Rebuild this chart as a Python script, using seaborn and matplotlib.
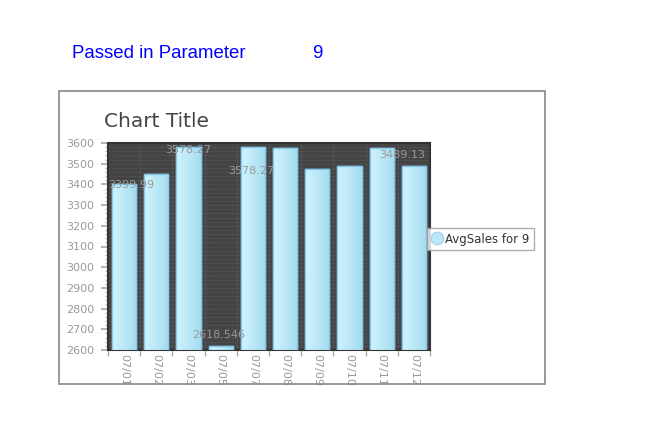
import matplotlib
matplotlib.use("Agg")
import matplotlib.pyplot as plt
import seaborn as sns
import numpy as np
import pandas as pd
from matplotlib.patches import Rectangle
from matplotlib.colors import LinearSegmentedColormap
from matplotlib.ticker import MultipleLocator

categories = ["07/01", "07/02", "07/03", "07/05", "07/07", "07/08", "07/09", "07/10", "07/11", "07/12"]
avg_sales = [3399.99, 3451.0, 3578.27, 2618.546, 3578.27, 3577.0, 3476.0, 3490.0, 3575.0, 3489.13]
shown_labels = {0: "3399.99", 2: "3578.27", 3: "2618.546", 4: "3578.27", 9: "3489.13"}
series_name = "AvgSales for 9"
param_label = "Passed in Parameter"
param_value = "9"
title = "Chart Title"

df = pd.DataFrame({"day": categories, "sales": avg_sales})

sns.set_theme(style="white")
plt.rcParams["font.family"] = ["DejaVu Sans"]

W, H = 668, 434
fig = plt.figure(figsize=(W / 100, H / 100), dpi=100)
fig.patch.set_facecolor("white")

def fx(px):
    return px / W

def fy(py):
    return 1 - py / H

YMIN, YMAX = 2600, 3600

# outer chart frame
fig.patches.append(Rectangle((fx(59), fy(384)), fx(545) - fx(59), fy(91) - fy(384),
                             transform=fig.transFigure, fill=False, edgecolor="#888888", linewidth=1.2))

fig.text(fx(72), fy(54), param_label, color="#0000ff", fontsize=13.4,
         family=["Liberation Sans"], va="center", ha="left")
fig.text(fx(312), fy(54), param_value, color="#0000ff", fontsize=13.4,
         family=["Liberation Sans"], va="center", ha="left")
fig.text(fx(104), fy(121), title, color="#444444", fontsize=14.5, va="center", ha="left")

ax = fig.add_axes([fx(108), fy(350), fx(430) - fx(108), fy(143) - fy(350)])
ax.set_facecolor("#444444")

sns.barplot(data=df, x="day", y="sales", ax=ax, width=0.75, color="#bfeaf6",
            edgecolor="#86c8ee", linewidth=1.0, zorder=3)

cmap = LinearSegmentedColormap.from_list("g", ["#d2f4fd", "#a4dcef"])
grad = np.linspace(0, 1, 64).reshape(1, -1)
for p in list(ax.patches):
    x0, w = p.get_x(), p.get_width()
    top = p.get_y() + p.get_height()
    clip = Rectangle((x0, YMIN), w, top - YMIN, transform=ax.transData)
    im = ax.imshow(grad, cmap=cmap, aspect="auto", extent=[x0, x0 + w, YMIN, top],
                   zorder=3.5, interpolation="bilinear")
    im.set_clip_path(clip)
    ax.add_patch(Rectangle((x0, YMIN), w, top - YMIN, fill=False, edgecolor="#86c8ee",
                           linewidth=1.0, zorder=4))
ax.set_xlim(-0.5, len(categories) - 0.5)
ax.set_ylim(YMIN, YMAX)

# grid
for yv in np.arange(YMIN, YMAX + 1, 20):
    ax.axhline(yv, color="#5c5c5c", linestyle=(0, (1, 1)), linewidth=0.6, zorder=1)
for xv in np.arange(0.5, len(categories) - 0.5, 1):
    ax.axvline(xv, color="#5c5c5c", linestyle=(0, (1, 1)), linewidth=0.8, zorder=1)

ax.yaxis.set_major_locator(MultipleLocator(100))
ax.yaxis.set_minor_locator(MultipleLocator(20))
ax.set_xticks(range(len(categories)))
ax.set_xticklabels(categories, rotation=-90, color="#999999", fontsize=8)
ax.set_xticks(np.arange(-0.5, len(categories), 1), minor=True)
ax.tick_params(axis="x", which="major", length=0, pad=3)
ax.tick_params(axis="x", which="minor", length=4, color="#aaaaaa", bottom=True)
ax.tick_params(axis="y", which="major", length=5, color="#aaaaaa", labelcolor="#999999",
               labelsize=8, left=True, pad=5)
ax.tick_params(axis="y", which="minor", length=2, color="#bbbbbb", left=True)
ax.set_xlabel("")
ax.set_ylabel("")
for s in ax.spines.values():
    s.set_color("#333333")
    s.set_linewidth(1.5)

# data labels
label_pos = {0: (0.22, 3398), 2: (0.0, 3568), 3: (-0.05, 2673), 4: (-0.05, 3466), 9: (-0.35, 3543)}
for i, txt in shown_labels.items():
    dx, yv = label_pos[i]
    ax.text(i + dx, yv, txt, color="#999999", fontsize=8, ha="center", va="center", zorder=6)

handle = plt.Line2D([], [], marker="o", linestyle="none", markersize=9,
                    markerfacecolor="#bfe6f8", markeredgecolor="#a6d6f2")
leg = fig.legend([handle], [series_name], loc="center left",
                 bbox_to_anchor=(fx(427), fy(239)), frameon=True, fontsize=8.5,
                 handletextpad=0.2, borderpad=0.35, handlelength=1.0, fancybox=False,
                 borderaxespad=0)
leg.get_frame().set_edgecolor("#999999")
leg.get_frame().set_linewidth(1.0)
for t in leg.get_texts():
    t.set_color("#333333")

fig.savefig("out.png", dpi=100)
